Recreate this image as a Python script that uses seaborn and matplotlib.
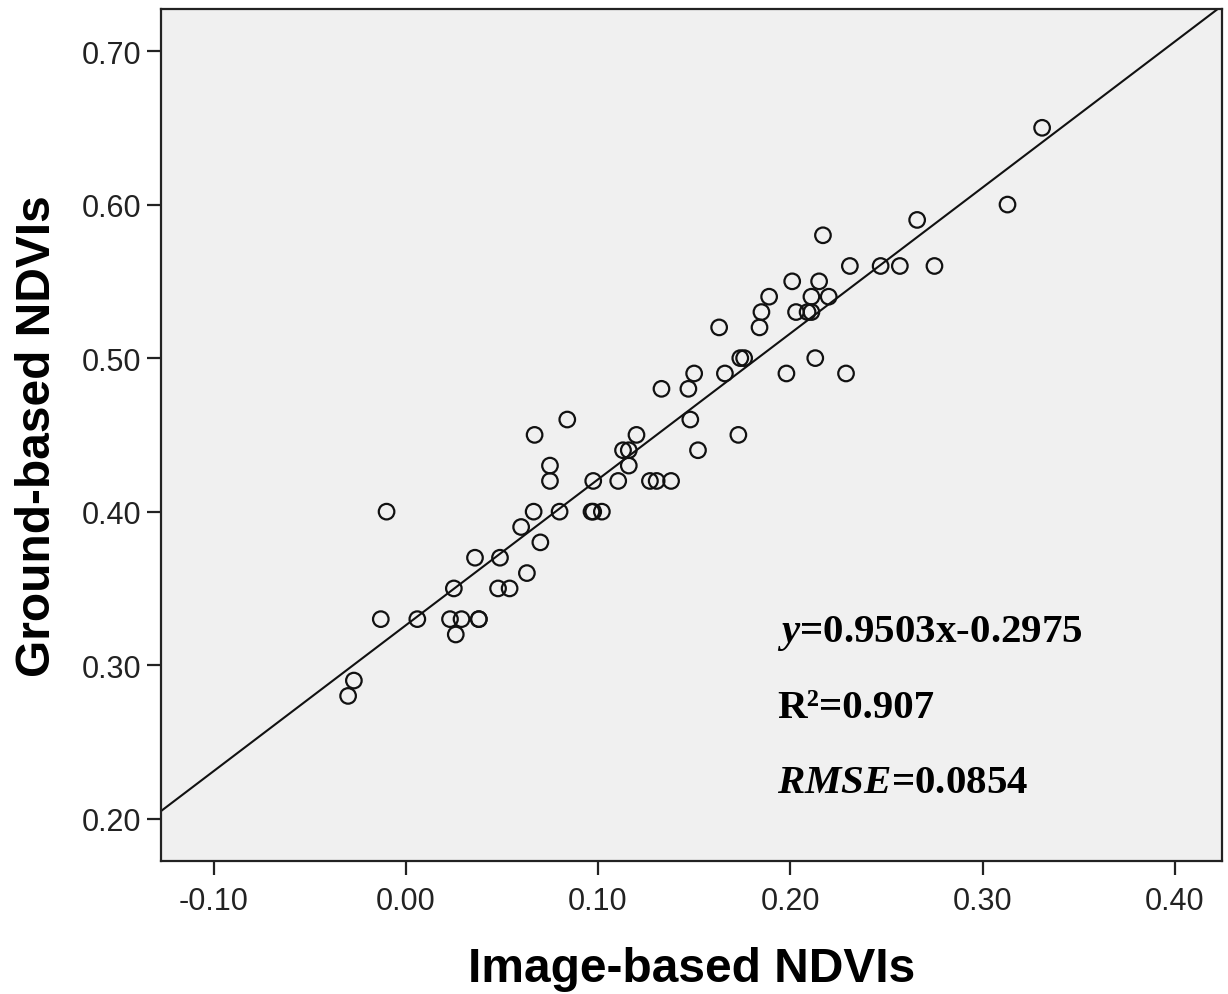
import matplotlib
matplotlib.use("Agg")
import matplotlib.pyplot as plt
import seaborn as sns
import numpy as np

# Image-based NDVI (x) vs ground-based NDVI (y)
image_ndvi = [0.331, 0.313, 0.266, 0.217,
              0.231, 0.247, 0.257, 0.275,
              0.201, 0.215,
              0.189, 0.211, 0.220,
              0.185, 0.203, 0.209, 0.211,
              0.163, 0.184,
              0.174, 0.176, 0.213,
              0.150, 0.166, 0.198, 0.229,
              0.133, 0.147,
              0.148, 0.084,
              0.067, 0.120, 0.173,
              0.113, 0.116, 0.152,
              0.075, 0.116,
              0.075, 0.0975, 0.1105, 0.127, 0.1305, 0.138,
              -0.010, 0.0665, 0.080, 0.0966, 0.0975, 0.102,
              0.060,
              0.070,
              0.036, 0.049,
              0.063,
              0.025, 0.048, 0.054,
              -0.013, 0.006, 0.023, 0.029, 0.038, 0.038,
              0.026,
              -0.027,
              -0.030]
ground_ndvi = [0.65, 0.60, 0.59, 0.58,
               0.56, 0.56, 0.56, 0.56,
               0.55, 0.55,
               0.54, 0.54, 0.54,
               0.53, 0.53, 0.53, 0.53,
               0.52, 0.52,
               0.50, 0.50, 0.50,
               0.49, 0.49, 0.49, 0.49,
               0.48, 0.48,
               0.46, 0.46,
               0.45, 0.45, 0.45,
               0.44, 0.44, 0.44,
               0.43, 0.43,
               0.42, 0.42, 0.42, 0.42, 0.42, 0.42,
               0.40, 0.40, 0.40, 0.40, 0.40, 0.40,
               0.39,
               0.38,
               0.37, 0.37,
               0.36,
               0.35, 0.35, 0.35,
               0.33, 0.33, 0.33, 0.33, 0.33, 0.33,
               0.32,
               0.29,
               0.28]

# fitted line as drawn
slope = 0.9503
intercept = 0.326

x_ticks = [-0.10, 0.00, 0.10, 0.20, 0.30, 0.40]
y_ticks = [0.20, 0.30, 0.40, 0.50, 0.60, 0.70]

sns.set_style("ticks", {"axes.facecolor": "#f0f0f0",
                        "axes.edgecolor": "#222222"})
plt.rcParams["font.family"] = ["Liberation Sans", "DejaVu Sans"]
plt.rcParams["mathtext.fontset"] = "custom"
plt.rcParams["mathtext.rm"] = "Liberation Serif:bold"
plt.rcParams["mathtext.it"] = "Liberation Serif:italic:bold"
plt.rcParams["mathtext.bf"] = "Liberation Serif:bold"

fig = plt.figure(figsize=(12.28, 9.95), dpi=100)
ax = fig.add_axes([0.131, 0.134, 0.864, 0.856])

sns.scatterplot(x=image_ndvi, y=ground_ndvi, ax=ax, marker="o",
                s=125, facecolor="none", edgecolor="#111111",
                linewidth=1.6, zorder=3)
ax.axline((0, intercept), slope=slope, color="#111111", lw=1.5, zorder=2)

ax.set_xlim(-0.1274, 0.4245)
ax.set_ylim(0.1727, 0.7274)
ax.set_xticks(x_ticks)
ax.set_yticks(y_ticks)
ax.set_xticklabels([f"{t:.2f}" for t in x_ticks])
ax.set_yticklabels([f"{t:.2f}" for t in y_ticks])
ax.tick_params(axis="both", labelsize=22, length=10, width=1.6,
               color="#222222", labelcolor="#222222")
ax.tick_params(axis="x", pad=8)
ax.tick_params(axis="y", pad=4)
for sp in ax.spines.values():
    sp.set_linewidth(1.6)
    sp.set_visible(True)

ax.set_xlabel("Image-based NDVIs", fontsize=34.5, fontweight="bold",
              labelpad=22, color="black")
ax.set_ylabel("Ground-based NDVIs", fontsize=34.5, fontweight="bold",
              labelpad=16, color="black")

serif = ["Liberation Serif", "DejaVu Serif"]
ax.text(0.193, 0.3156, "$\\mathit{y}$=0.9503x-0.2975", fontsize=29.5,
        fontweight="bold", family=serif, va="baseline", color="black")
ax.text(0.193, 0.2661, "R²=0.907", fontsize=29.5, fontweight="bold",
        family=serif, va="baseline", color="black")
ax.text(0.193, 0.2173, "$\\mathit{RMSE}$=0.0854", fontsize=29.5,
        fontweight="bold", family=serif, va="baseline", color="black")

fig.savefig("out.png", dpi=100)
